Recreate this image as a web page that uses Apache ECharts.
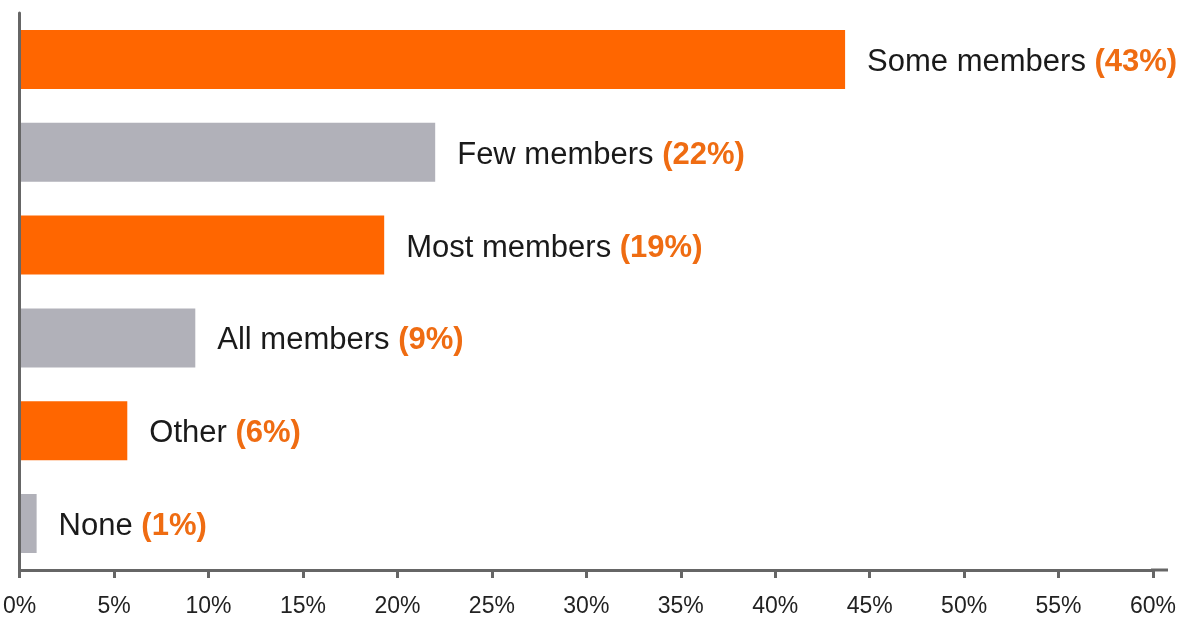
<!DOCTYPE html>
<html>
<head>
<meta charset="utf-8">
<script src="https://cdn.jsdelivr.net/npm/echarts@6/dist/echarts.min.js"></script>
<style>
  html, body { margin: 0; padding: 0; background: #fff; }
  #main { width: 1198px; height: 618px; }
</style>
</head>
<body>
<div id="main"></div>
<script>
var categories = ['Some members', 'Few members', 'Most members', 'All members', 'Other', 'None'];
var values = [43.7, 22.0, 19.3, 9.3, 5.7, 0.9];
var pctLabels = ['43%', '22%', '19%', '9%', '6%', '1%'];
var tickLabels = ['0%', '5%', '10%', '15%', '20%', '25%', '30%', '35%', '40%', '45%', '50%', '55%', '60%'];

var orange = '#FF6600';
var grey = '#B1B1B9';
var axisColor = '#666666';
var font = 'Liberation Sans, Arial, sans-serif';

var myChart = echarts.init(document.getElementById('main'));

var barData = values.map(function (v, i) {
	return {
		value: v,
		itemStyle: { color: i % 2 === 0 ? orange : grey },
		label: {
			formatter: '{n|' + categories[i] + ' }{p|(' + pctLabels[i] + ')}'
		}
	};
});

var option = {
	animation: false,
	grid: {
		left: 18,
		right: 45,
		top: 13,
		bottom: 46
	},
	xAxis: {
		type: 'value',
		min: 0,
		max: 60,
		interval: 5,
		splitLine: { show: false },
		axisLine: {
			show: true,
			lineStyle: { color: axisColor, width: 3 }
		},
		axisTick: {
			show: true,
			length: 8,
			lineStyle: { color: axisColor, width: 3 }
		},
		axisLabel: {
			color: '#222',
			fontFamily: font,
			fontSize: 23,
			margin: 25,
			formatter: function (v) {
				return tickLabels[Math.round(v / 5)];
			}
		}
	},
	yAxis: {
		type: 'category',
		inverse: true,
		data: categories,
		z: 3,
		axisLine: {
			show: true,
			lineStyle: { color: axisColor, width: 3 }
		},
		axisTick: { show: false },
		axisLabel: { show: false }
	},
	series: [{
		type: 'bar',
		data: barData,
		barWidth: 59,
		label: {
			show: true,
			position: 'right',
			distance: 22,
			offset: [0, 3],
			rich: {
				n: {
					fontFamily: font,
					fontSize: 31,
					color: '#1a1a1a'
				},
				p: {
					fontFamily: font,
					fontSize: 31,
					fontWeight: 'bold',
					color: '#EF6C12'
				}
			}
		}
	}]
};

myChart.setOption(option);

// extend the x axis line a little past 60%, like the original
var rect = myChart.getModel().getComponent('grid').coordinateSystem.getRect();
var yLine = rect.y + rect.height;
myChart.setOption({
	graphic: [{
		type: 'line',
		shape: { x1: rect.x + rect.width - 2, y1: yLine, x2: rect.x + rect.width + 15, y2: yLine },
		style: { stroke: axisColor, lineWidth: 3 }
	}]
});
</script>
</body>
</html>
